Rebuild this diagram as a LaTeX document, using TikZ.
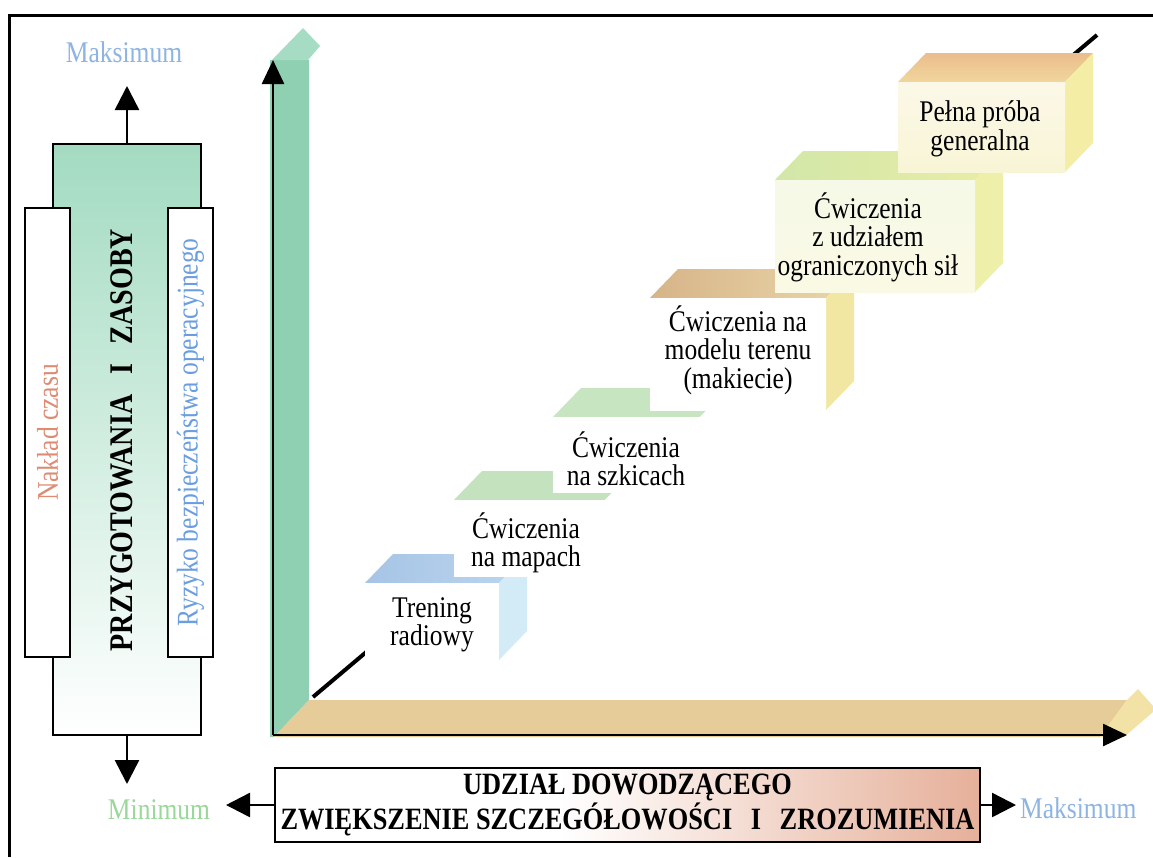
\documentclass[tikz,border=0pt]{standalone}
\usepackage{fontspec}
\setmainfont{Liberation Serif}[FakeStretch=0.85]
\usetikzlibrary{arrows.meta}

\definecolor{mint}{HTML}{A3DBC1}
\definecolor{mintmid}{HTML}{CFEBDD}
\definecolor{axisgreen}{HTML}{8FD0B2}
\definecolor{axisgreenlt}{HTML}{A6DCC4}
\definecolor{wheat}{HTML}{E6CC98}
\definecolor{wheatlt}{HTML}{F3E2A6}
\definecolor{salmon}{HTML}{E6B09A}
\definecolor{salmonmid}{HTML}{F6DFD3}
\definecolor{maxblue}{HTML}{8DB4E2}
\definecolor{mingreen}{HTML}{9AD89A}
\definecolor{timered}{HTML}{DE8B73}
\definecolor{riskblue}{HTML}{6A9EE0}

% one stair step: front face (x0,y0)-(x1,y1), top face and right side face
\newcommand\stairblock[7]{%
  \path[#5] (#1,#2) -- (#1+28,#2-29) -- (#3+28,#2-29) -- (#3,#2) -- cycle;
  \path[#6] (#3,#2) -- (#3+28,#2-29) -- (#3+28,#4-29) -- (#3,#4) -- cycle;
  \path[#7] (#1,#2) rectangle (#3,#4);
}

\tikzset{
  outline/.style={draw=black, line width=2pt},
  bigarrow/.style={line width=2.5pt, -{Triangle[length=24pt,width=24pt]}},
  axisline/.style={line width=2.5pt, -{Triangle[length=24pt,width=22pt]}},
  label/.style={font=\fontsize{30}{30}\selectfont, inner sep=0pt},
  steptext/.style={align=center, font=\fontsize{30}{28.5}\selectfont, inner sep=0pt},
  sidebox/.style={outline, fill=white, inner sep=0pt, font=\fontsize{30}{30}\selectfont},
}

\begin{document}
\begin{tikzpicture}[x=1pt,y=-1pt]
\useasboundingbox (0,0) rectangle (1153,857);
\fill[white] (0,0) rectangle (1153,857);

% page frame
\draw[line width=3pt] (9,857) -- (9,15) -- (1153,15);

% ---- left panel: preparation and resources ----
\path[top color=mint, middle color=mintmid, bottom color=white] (53,144) rectangle (201,735);
\draw[outline] (53,144) rectangle (201,735);
\coordinate (coretop) at (127,144);
\coordinate (corebot) at (127,735);
\coordinate (uptip) at (127,86);
\coordinate (downtip) at (127,784);
\draw[bigarrow] (coretop) -- (uptip);
\draw[bigarrow] (corebot) -- (downtip);

\node[sidebox, rotate=90, minimum width=449pt, minimum height=45pt, text=timered]
  (time) at (47.5,432.5) {Nakład czasu};
\node[sidebox, rotate=90, minimum width=449pt, minimum height=45pt, text=riskblue]
  (risk) at (190.5,432.5) {Ryzyko bezpieczeństwa operacyjnego};
\node[rotate=90, inner sep=0pt, font=\fontsize{33}{34}\selectfont\bfseries]
  (prep) at (122,440) {PRZYGOTOWANIA\hspace{0.6em}I\hspace{0.6em}ZASOBY};

\node[label, text=maxblue] (maxtop) at (124,52) {Maksimum};
\node[label, text=mingreen] (minlbl) at (159,810) {Minimum};

% ---- axes drawn as 3D bars ----
\fill[axisgreen] (270,60) -- (270,737) -- (274,737) -- (309,700) -- (309,60) -- cycle;
\fill[axisgreenlt] (272,60) -- (303,28) -- (320,46) -- (308,60) -- cycle;
\fill[wheat] (274,737) -- (309,700) -- (1127,700) -- (1100,737) -- cycle;
\fill[wheatlt] (1100,737) -- (1127,700) -- (1138,689) -- (1153,706) -- (1153,712) -- (1124,737) -- cycle;

\coordinate (origin) at (273,735);
\coordinate (ytip) at (273,60);
\coordinate (xtip) at (1127,735);
\draw[axisline] (origin) -- (ytip);
\draw[axisline] (origin) -- (xtip);

% diagonal progress line, mostly hidden behind the steps
\coordinate (dlo) at (313,697);
\coordinate (dhi) at (1097,35);
\draw[line width=4pt] (dlo) -- (dhi);

% ---- the stair steps ----
\stairblock{365}{583}{499}{660}{left color={rgb,255:red,166;green,196;blue,230}, right color={rgb,255:red,188;green,214;blue,238}}{fill={rgb,255:red,210;green,235;blue,246}}{fill=white}
\node[steptext] (radio) at (432,625) {Trening\\radiowy};

\stairblock{454}{500}{605}{577}{fill={rgb,255:red,195;green,226;blue,189}}{fill=white}{fill=white}
\node[steptext] (maps) at (526,543) {Ćwiczenia\\na mapach};

\stairblock{553}{417}{700}{493}{fill={rgb,255:red,198;green,229;blue,192}}{fill=white}{fill=white}
\node[steptext] (sketch) at (626,459) {Ćwiczenia\\na szkicach};

\stairblock{650}{298}{826}{410}{left color={rgb,255:red,214;green,180;blue,136}, right color={rgb,255:red,234;green,215;blue,170}}{fill={rgb,255:red,242;green,231;blue,162}}{top color=white, middle color={rgb,255:red,249;green,243;blue,205}, bottom color=white}
\node[steptext] (model) at (738,350) {Ćwiczenia na\\modelu terenu\\(makiecie)};

\stairblock{775}{180}{975}{292}{left color={rgb,255:red,210;green,231;blue,168}, right color={rgb,255:red,233;green,237;blue,166}}{fill={rgb,255:red,238;green,240;blue,170}}{top color={rgb,255:red,246;green,249;blue,232}, middle color=white, bottom color={rgb,255:red,250;green,249;blue,228}}
\node[steptext] (forces) at (868,237) {Ćwiczenia\\z udziałem\\ograniczonych sił};

\stairblock{898}{82}{1065}{172}{top color={rgb,255:red,235;green,189;blue,140}, bottom color={rgb,255:red,240;green,214;blue,156}}{fill={rgb,255:red,244;green,237;blue,166}}{top color={rgb,255:red,252;green,248;blue,232}, middle color=white, bottom color={rgb,255:red,248;green,245;blue,214}}
\node[steptext] (full) at (980,129) {Pełna próba\\generalna};

% ---- bottom caption: commander's involvement ----
\fill[white] (275,768) rectangle (560,842);
\path[left color=white, middle color=salmonmid, right color=salmon] (560,768) rectangle (980,842);
\node[outline, minimum width=705pt, minimum height=74pt, inner sep=0pt, align=center,
      font=\fontsize{31}{35}\selectfont\bfseries]
  (udzial) at (627.5,805) {UDZIAŁ DOWODZĄCEGO\\ZWIĘKSZENIE SZCZEGÓŁOWOŚCI\hspace{0.6em}I\hspace{0.6em}ZROZUMIENIA};
\coordinate (lefttip) at (226,805);
\coordinate (righttip) at (1016,805);
\draw[bigarrow] (udzial.west) -- (lefttip);
\draw[bigarrow] (udzial.east) -- (righttip);
\node[label, text=maxblue, anchor=west] (maxright) at (1020,808) {Maksimum};

\end{tikzpicture}
\end{document}
